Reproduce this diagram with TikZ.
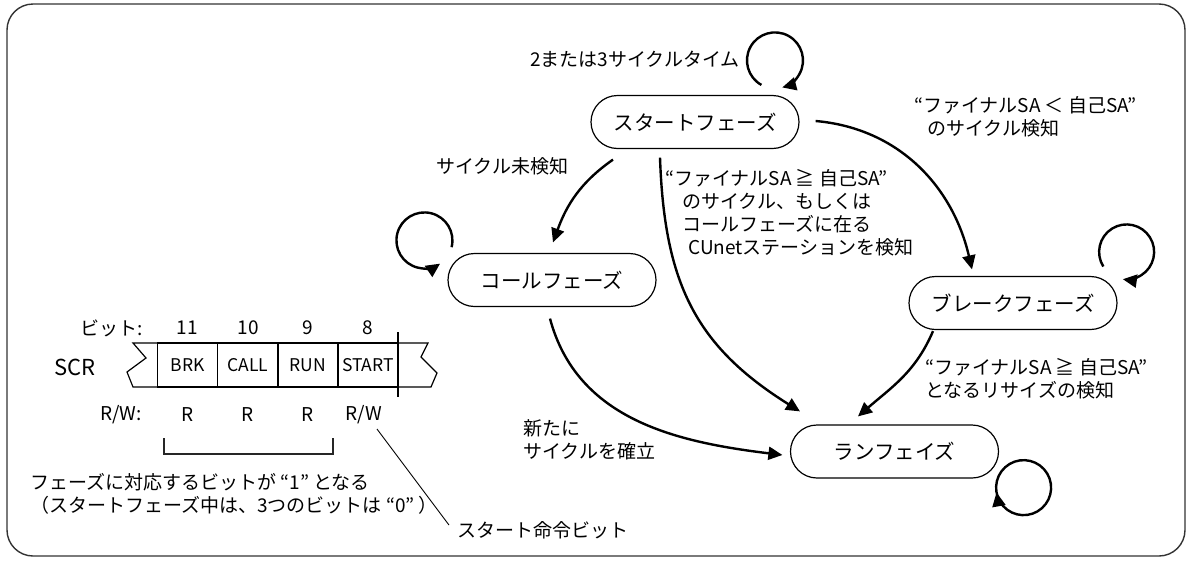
\documentclass[tikz,border=0pt]{standalone}
\usepackage{fontspec}
\setmainfont{Noto Sans CJK JP}
\usetikzlibrary{arrows.meta}
\tikzstyle{phase}=[rectangle,rounded corners=26.5pt,draw=black,line width=1.2pt,
  minimum width=208pt,minimum height=53pt,inner sep=0pt,font=\fontsize{20.5}{24}\selectfont]
\tikzstyle{lbl}=[inner sep=0pt,anchor=west,align=left,font=\fontsize{19}{23}\selectfont]
\tikzstyle{arr}=[line width=2.4pt,-{Triangle[length=14pt,width=13pt]}]
\tikzstyle{cell}=[rectangle,draw=black,line width=1.2pt,minimum width=60.5pt,
  minimum height=44pt,inner sep=0pt,font=\fontsize{17.5}{22}\selectfont]
\tikzstyle{reg}=[inner sep=0pt,font=\fontsize{19}{22}\selectfont]

\begin{document}
\begin{tikzpicture}[x=1pt,y=1pt]
    \useasboundingbox (0,0) rectangle (1192,-560);
    \draw [line width=1.4pt,draw=black!80,rounded corners=26pt] (7,-4) rectangle (1185,-556);

    % phases
    \node [style=phase] (st) at (695,-122) {スタートフェーズ};
    \node [style=phase] (cl) at (552,-280) {コールフェーズ};
    \node [style=phase] (bk) at (1013,-303) {ブレークフェーズ};
    \node [style=phase] (rn) at (894.5,-451.5) {ランフェイズ};

    % transitions
    \draw [style=arr] ([shift={(-82,-10.5)}]st.south) to[out=215,in=70] ([shift={(1,10.5)}]cl.north);
    \draw [style=arr] ([shift={(-35,-8.5)}]st.south) to[out=272,in=148,looseness=1.1] ([shift={(-94.5,13)}]rn.north);
    \draw [style=arr] ([shift={(16,1)}]st.east) to[out=-5,in=103] ([shift={(-41,6.5)}]bk.north);
    \draw [style=arr] ([shift={(-2,-11.5)}]cl.south) to[out=285,in=173] ([shift={(-7.5,-3.5)}]rn.west);
    \draw [style=arr] ([shift={(-80,-1)}]bk.south) to[out=247,in=41] ([shift={(-36.5,8)}]rn.north);

    % self loops
    \draw [style=arr] ([shift={(66.4,10)}]st.north) arc[start angle=-119,end angle=-435,radius=28];
    \draw [style=arr] ([shift={(4.2,5.7)}]cl.north west) arc[start angle=-14,end angle=304,radius=28];
    \draw [style=arr] ([shift={(-14.3,9.4)}]bk.north east) arc[start angle=-148,end angle=-458,radius=27.5];
    \draw [style=arr] ([shift={(6.1,11.4)}]rn.south east) arc[start angle=132,end angle=-530,radius=27.5];

    % transition labels
    \node [style=lbl] (l1) at (530,-59) {2または3サイクルタイム};
    \node [style=lbl] (l2) at (436,-166) {サイクル未検知};
    \node [style=lbl] (l3) at (665,-212.5) {“ファイナルSA ≧ 自己SA”\\\hspace*{17pt}のサイクル、もしくは\\\hspace*{17pt}コールフェーズに在る\\\hspace*{23pt}CUnetステーションを検知};
    \node [style=lbl] (l4) at (914,-116.5) {“ファイナルSA ＜ 自己SA”\\\hspace*{13pt}のサイクル検知};
    \node [style=lbl] (l5) at (925,-378.5) {“ファイナルSA ≧ 自己SA”\\となるリサイズの検知};
    \node [style=lbl] (l6) at (523,-439.5) {新たに\\サイクルを確立};

    % SCR register
    \node [style=reg,font=\fontsize{22}{26}\selectfont] (scr) at (75,-367) {SCR};
    \node [style=reg,anchor=east] (bt) at (143,-328) {ビット:};
    \node [style=reg] (b11) at (187.5,-328) {11};
    \node [style=reg] (b10) at (248,-328) {10};
    \node [style=reg] (b9) at (308,-328) {9};
    \node [style=reg] (b8) at (368,-328) {8};
    \node [style=cell] (cbrk) at (187.5,-365) {BRK};
    \node [style=cell] (ccall) at (248,-365) {CALL};
    \node [style=cell] (crun) at (308,-365) {RUN};
    \node [style=cell] (cstart) at (368,-365) {START};
    \draw [line width=1.2pt] (157,-343) -- (133,-343) -- (146,-358) -- (127,-372) -- (133,-387) -- (157,-387);
    \draw [line width=1.2pt] (398,-343) -- (428,-343) -- (421,-357) -- (437,-373) -- (431,-387) -- (398,-387);
    \draw [line width=1.2pt] (398,-332) -- (398,-397);
    \node [style=reg,anchor=east] (rw) at (142,-415) {R/W:};
    \node [style=reg] (r11) at (187.5,-415) {R};
    \node [style=reg] (r10) at (248,-415) {R};
    \node [style=reg] (r9) at (308,-415) {R};
    \node [style=reg] (r8) at (364,-415) {R/W};
    \draw [line width=1.1pt,draw=black!85] (164,-438) -- (164,-454) -- (333,-454) -- (333,-438);
    \node [style=lbl] (note) at (30,-494) {フェーズに対応するビットが “1” となる\\（スタートフェーズ中は、3つのビットは “0” ）};
    \node [style=lbl] (cmd) at (457,-530) {スタート命令ビット};
    \draw [line width=0.9pt] ([shift={(13,-14)}]r8.center) -- ([shift={(-8,5)}]cmd.west);
\end{tikzpicture}
\end{document}
